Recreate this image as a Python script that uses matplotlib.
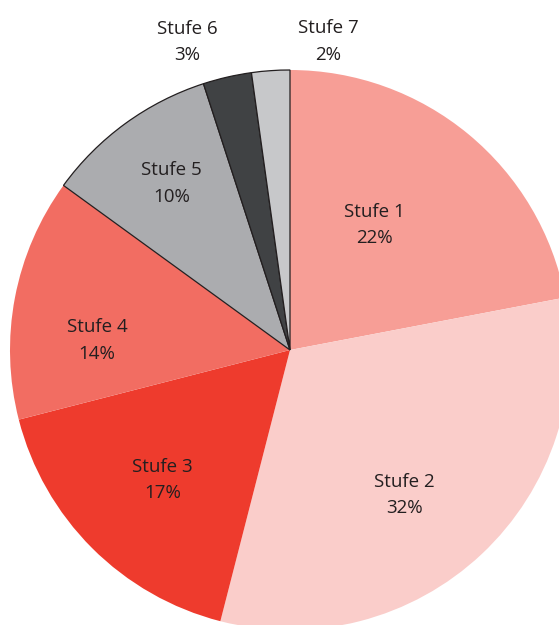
import numpy as np
import matplotlib.pyplot as plt

labels = ['Stufe 1', 'Stufe 2', 'Stufe 3', 'Stufe 4', 'Stufe 5', 'Stufe 6', 'Stufe 7']
shares = [22, 32, 17, 14, 10, 2.8, 2.2]
colors = ['#F79E96', '#FACDCA', '#EE3B2D', '#F26D62', '#ABACAF', '#404244', '#C7C8CA']
edged = [False, False, False, False, True, True, True]

# label placement: radius and nudge of angle (degrees) against the wedge middle
label_r = [0.54, 0.66, 0.65, 0.69, 0.73, 1.16, 1.11]
label_nudge = [5.5, -5, 0.5, 8, -0.5, 5.5, -11]

plt.rcParams['font.family'] = ['Open Sans', 'DejaVu Sans']

fig = plt.figure(figsize=(5.59, 6.25), dpi=100)
ax = fig.add_axes([0, 0, 1, 1])

wedges, _ = ax.pie(shares, colors=colors, startangle=90, counterclock=False,
                   radius=1, center=(0, 0), frame=True)
ax.axis('off')
ax.set_aspect('equal')
ax.set_xlim(-290 / 280, 269 / 280)
ax.set_ylim(-275 / 280, 350 / 280)

for w, e in zip(wedges, edged):
    if e:
        w.set_edgecolor('#231F20')
        w.set_linewidth(0.9)
    else:
        w.set_edgecolor('none')
    w.set_clip_on(False)

for w, lab, s, r, nd in zip(wedges, labels, shares, label_r, label_nudge):
    mid = np.deg2rad((w.theta1 + w.theta2) / 2 + nd)
    ax.text(r * np.cos(mid), r * np.sin(mid), f'{lab}\n{round(s)}%',
            ha='center', va='center', fontsize=13.5, color='#231F20',
            linespacing=1.6, clip_on=False)

fig.savefig('out.png', dpi=100)
